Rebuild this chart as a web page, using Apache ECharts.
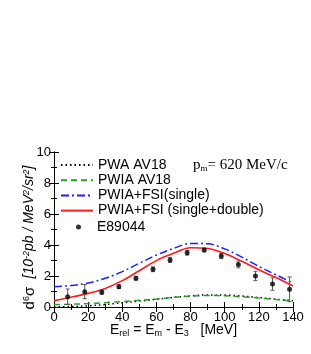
<!DOCTYPE html>
<html><head><meta charset="utf-8">
<script src="https://cdn.jsdelivr.net/npm/echarts@6/dist/echarts.min.js"></script>
<style>html,body{margin:0;padding:0;background:#fff}#c{width:311px;height:354px}</style>
</head><body><div id="c"></div>
<script>
// Data
const curveX = [0,10,20,30,40,50,60,70,80,90,100,110,120,130,140];
const pwaAV18 = [0.0,0.03,0.08,0.16,0.27,0.38,0.5,0.62,0.72,0.78,0.77,0.71,0.61,0.5,0.4];
const pwiaAV18 = [0.15,0.18,0.22,0.28,0.35,0.43,0.52,0.62,0.7,0.74,0.72,0.66,0.58,0.48,0.4];
const fsiSingle = [1.31,1.38,1.55,1.85,2.28,2.82,3.35,3.78,4.1,4.08,3.75,3.22,2.62,2.08,1.55];
const fsiDouble = [0.41,0.63,0.88,1.2,1.7,2.34,2.99,3.46,3.82,3.77,3.45,2.95,2.4,1.9,1.35];
const expX = [8,18,28,38,48,58,68,78,88,98,108,118,128,138];
const expY = [0.66,0.99,0.95,1.31,1.85,2.43,3.03,3.5,3.68,3.29,2.75,2.0,1.48,1.14];
const expErr = [0.5,0.45,0.12,0.12,0.12,0.15,0.15,0.15,0.12,0.17,0.22,0.3,0.4,0.8];
const xTicks = [0,20,40,60,80,100,120,140];
const yTicks = [0,2,4,6,8,10];
const names = ['PWA AV18','PWIA AV18','PWIA+FSI(single)','PWIA+FSI (single+double)','E89044'];

const pair = (xs, ys) => xs.map((x,i)=>[x, ys[i]]);
const FONT = 'Liberation Sans, Arial, sans-serif';

const chart = echarts.init(document.getElementById('c'), null, {renderer:'canvas'});
const axisCommon = {
  axisLine:{show:true, lineStyle:{color:'#000', width:1}},
  axisTick:{show:true, inside:true, length:5, lineStyle:{color:'#000'}},
  minorTick:{show:true, splitNumber:2, length:3, lineStyle:{color:'#000'}},
  splitLine:{show:false}
};
const lineSeries = (name, data, color, type, width) => ({
  name, type:'line', data, smooth:0.35, symbol:'none', showSymbol:false,
  lineStyle:{color, type, width}, itemStyle:{color:'rgba(0,0,0,0)'}, z:3
});

chart.setOption({
  animation:false,
  backgroundColor:'#fff',
  textStyle:{fontFamily:FONT},
  grid:{left:54, top:152, width:239, height:155},
  xAxis:[
    Object.assign({type:'value', position:'bottom', min:xTicks[0], max:xTicks[xTicks.length-1], interval:20,
      axisLabel:{color:'#000', fontSize:13, margin:4, fontFamily:FONT},
      name:'{n|E}{sub|rel}{n| = E}{sub|m}{n| - E}{sub|3}{n|   [MeV]}',
      nameLocation:'middle', nameGap:16, nameMoveOverlap:false,
      nameTextStyle:{rich:{
        n:{fontSize:14, color:'#000', fontFamily:FONT},
        sub:{fontSize:9, color:'#000', fontFamily:FONT, verticalAlign:'bottom', padding:[6,0,0,0]}
      }}
    }, axisCommon),
    Object.assign({type:'value', position:'top', min:0, max:140, interval:20, axisLabel:{show:false}}, axisCommon)
  ],
  yAxis:[
    Object.assign({type:'value', position:'left', min:yTicks[0], max:yTicks[yTicks.length-1], interval:2,
      axisLabel:{color:'#000', fontSize:13, margin:3, fontFamily:FONT},
      name:'{n|d}{sup|6}{n|σ  }{i|[10}{isup|-2}{i|pb / MeV}{isup|2}{i|/sr}{isup|2}{i|]}',
      nameLocation:'middle', nameGap:17, nameRotate:90, nameMoveOverlap:false,
      nameTextStyle:{padding:[0,16,0,0], rich:{
        n:{fontSize:15, color:'#000', fontFamily:FONT},
        sup:{fontSize:9, color:'#000', fontFamily:FONT, verticalAlign:'top', padding:[0,0,6,0]},
        i:{fontSize:14, color:'#000', fontFamily:FONT, fontStyle:'italic'},
        isup:{fontSize:9, color:'#000', fontFamily:FONT, fontStyle:'italic', verticalAlign:'top', padding:[0,0,6,0]}
      }}
    }, axisCommon),
    Object.assign({type:'value', position:'right', min:0, max:10, interval:2, axisLabel:{show:false}}, axisCommon)
  ],
  legend:[
    {orient:'vertical', left:60, top:158, padding:0, itemWidth:32, itemHeight:14, itemGap:1.2,
     data:names.slice(0,4), selectedMode:false,
     textStyle:{fontSize:14, lineHeight:14, color:'#000', fontFamily:FONT}},
    {orient:'vertical', left:76, top:220, padding:0, itemWidth:5, itemHeight:5, itemGap:0,
     data:[names[4]], selectedMode:false,
     textStyle:{fontSize:14, lineHeight:14, color:'#000', fontFamily:FONT, padding:[0,0,0,11]}}
  ],
  graphic:[
    {type:'text', left:193, top:158, style:{
      text:'{n|p}{sub|m}{n|= 620 MeV/c}',
      rich:{
        n:{fontSize:15, fill:'#000', fontFamily:'Liberation Serif, Times New Roman, serif'},
        sub:{fontSize:9, fill:'#000', fontFamily:'Liberation Serif, Times New Roman, serif', verticalAlign:'bottom', padding:[6,0,0,0]}
      }}}
  ],
  series:[
    lineSeries(names[0], pair(curveX, pwaAV18), '#000000', [1.5,3], 1.5),
    lineSeries(names[1], pair(curveX, pwiaAV18), '#2a9d2a', [6,4], 1.5),
    lineSeries(names[2], pair(curveX, fsiSingle), '#1f1fff', [8,3,2,3], 1.5),
    lineSeries(names[3], pair(curveX, fsiDouble), '#ff1a1a', 'solid', 1.6),
    {
      name:'errbars', type:'custom', z:4,
      data: expX.map((x,i)=>[x, expY[i]-expErr[i], expY[i]+expErr[i]]),
      renderItem:(params, api)=>{
        const lo = api.coord([api.value(0), api.value(1)]);
        const hi = api.coord([api.value(0), api.value(2)]);
        const st = {stroke:'#555', lineWidth:1};
        return {type:'group', children:[
          {type:'line', shape:{x1:lo[0], y1:lo[1], x2:hi[0], y2:hi[1]}, style:st},
          {type:'line', shape:{x1:lo[0]-2, y1:lo[1], x2:lo[0]+2, y2:lo[1]}, style:st},
          {type:'line', shape:{x1:hi[0]-2, y1:hi[1], x2:hi[0]+2, y2:hi[1]}, style:st}
        ]};
      }
    },
    {name:names[4], type:'scatter', data:pair(expX, expY), symbol:'circle', symbolSize:5,
     itemStyle:{color:'#000'}, z:5}
  ]
});
</script></body></html>
